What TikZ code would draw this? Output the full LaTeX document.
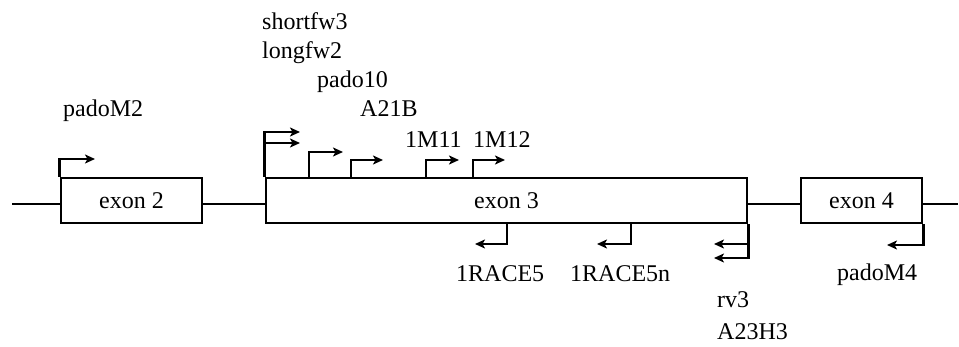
\documentclass[tikz,border=0pt]{standalone}
\usepackage{fontspec}
\setmainfont{Liberation Serif}
\usetikzlibrary{arrows.meta}
\begin{document}
\begin{tikzpicture}[x=1pt,y=-1pt,
  exonbox/.style={draw,line width=2.6pt,inner sep=0pt,minimum height=45pt,text depth=0pt,font=\fontsize{24}{28}\selectfont},
  backbone/.style={line width=2.6pt},
  primer/.style={line width=2.6pt,-{Stealth[length=10pt,width=9pt,inset=2.5pt]}},
  lab/.style={anchor=base west,inner sep=0pt,font=\fontsize{24}{28}\selectfont}]
\useasboundingbox (0,0) rectangle (959,347);
% exons
\node[exonbox,minimum width=141pt] (e2) at (131.5,200.5) {exon 2};
\node[exonbox,minimum width=481pt] (e3) at (506.5,200.5) {exon 3};
\node[exonbox,minimum width=121pt] (e4) at (861.5,200.5) {exon 4};
% backbone
\coordinate (l0) at (12,204);
\coordinate (l1) at (958,204);
\draw[backbone] (l0) -- (l0 -| e2.west);
\draw[backbone] (l0 -| e2.east) -- (l0 -| e3.west);
\draw[backbone] (l0 -| e3.east) -- (l0 -| e4.west);
\draw[backbone] (l0 -| e4.east) -- (l1);
% forward primers
\coordinate (tM2) at (95,159);
\draw[primer] (e2.north west) |- (tM2);
\coordinate (tS) at (300,132);
\coordinate (tL) at (300,143);
\draw[primer] (e3.north west) |- (tS);
\draw[primer] (e3.north west) |- (tL);
\coordinate (b10) at (309,178);
\coordinate (t10) at (343,152);
\draw[primer] (b10) |- (t10);
\coordinate (bA) at (351,178);
\coordinate (tA) at (383,160);
\draw[primer] (bA) |- (tA);
\coordinate (b11) at (426,178);
\coordinate (t11) at (459,160);
\draw[primer] (b11) |- (t11);
\coordinate (b12) at (473,178);
\coordinate (t12) at (505,160);
\draw[primer] (b12) |- (t12);
% reverse primers
\coordinate (bR5) at (507,223);
\coordinate (tR5) at (475,244);
\draw[primer] (bR5) |- (tR5);
\coordinate (bR5n) at (631,223);
\coordinate (tR5n) at (597,244);
\draw[primer] (bR5n) |- (tR5n);
\coordinate (trv) at (714,244);
\coordinate (tA23) at (714,258);
\draw[primer] (e3.south east) |- (trv);
\draw[primer] (e3.south east) |- (tA23);
\coordinate (tM4) at (887,245);
\draw[primer] (e4.south east) |- (tM4);
% labels
\node[lab] (n1) at (262,30) {shortfw3};
\node[lab] (n2) at (262,59) {longfw2};
\node[lab] (n3) at (317,88) {pado10};
\node[lab] (n4) at (360,117) {A21B};
\node[lab] (n5) at (63,117) {padoM2};
\node[lab] (n6) at (405,148) {1M11};
\node[lab] (n7) at (473,148) {1M12};
\node[lab] (n8) at (456,282) {1RACE5};
\node[lab] (n9) at (570,282) {1RACE5n};
\node[lab] (n10) at (837,281) {padoM4};
\node[lab] (n11) at (717,308) {rv3};
\node[lab] (n12) at (717,340) {A23H3};
\end{tikzpicture}
\end{document}
